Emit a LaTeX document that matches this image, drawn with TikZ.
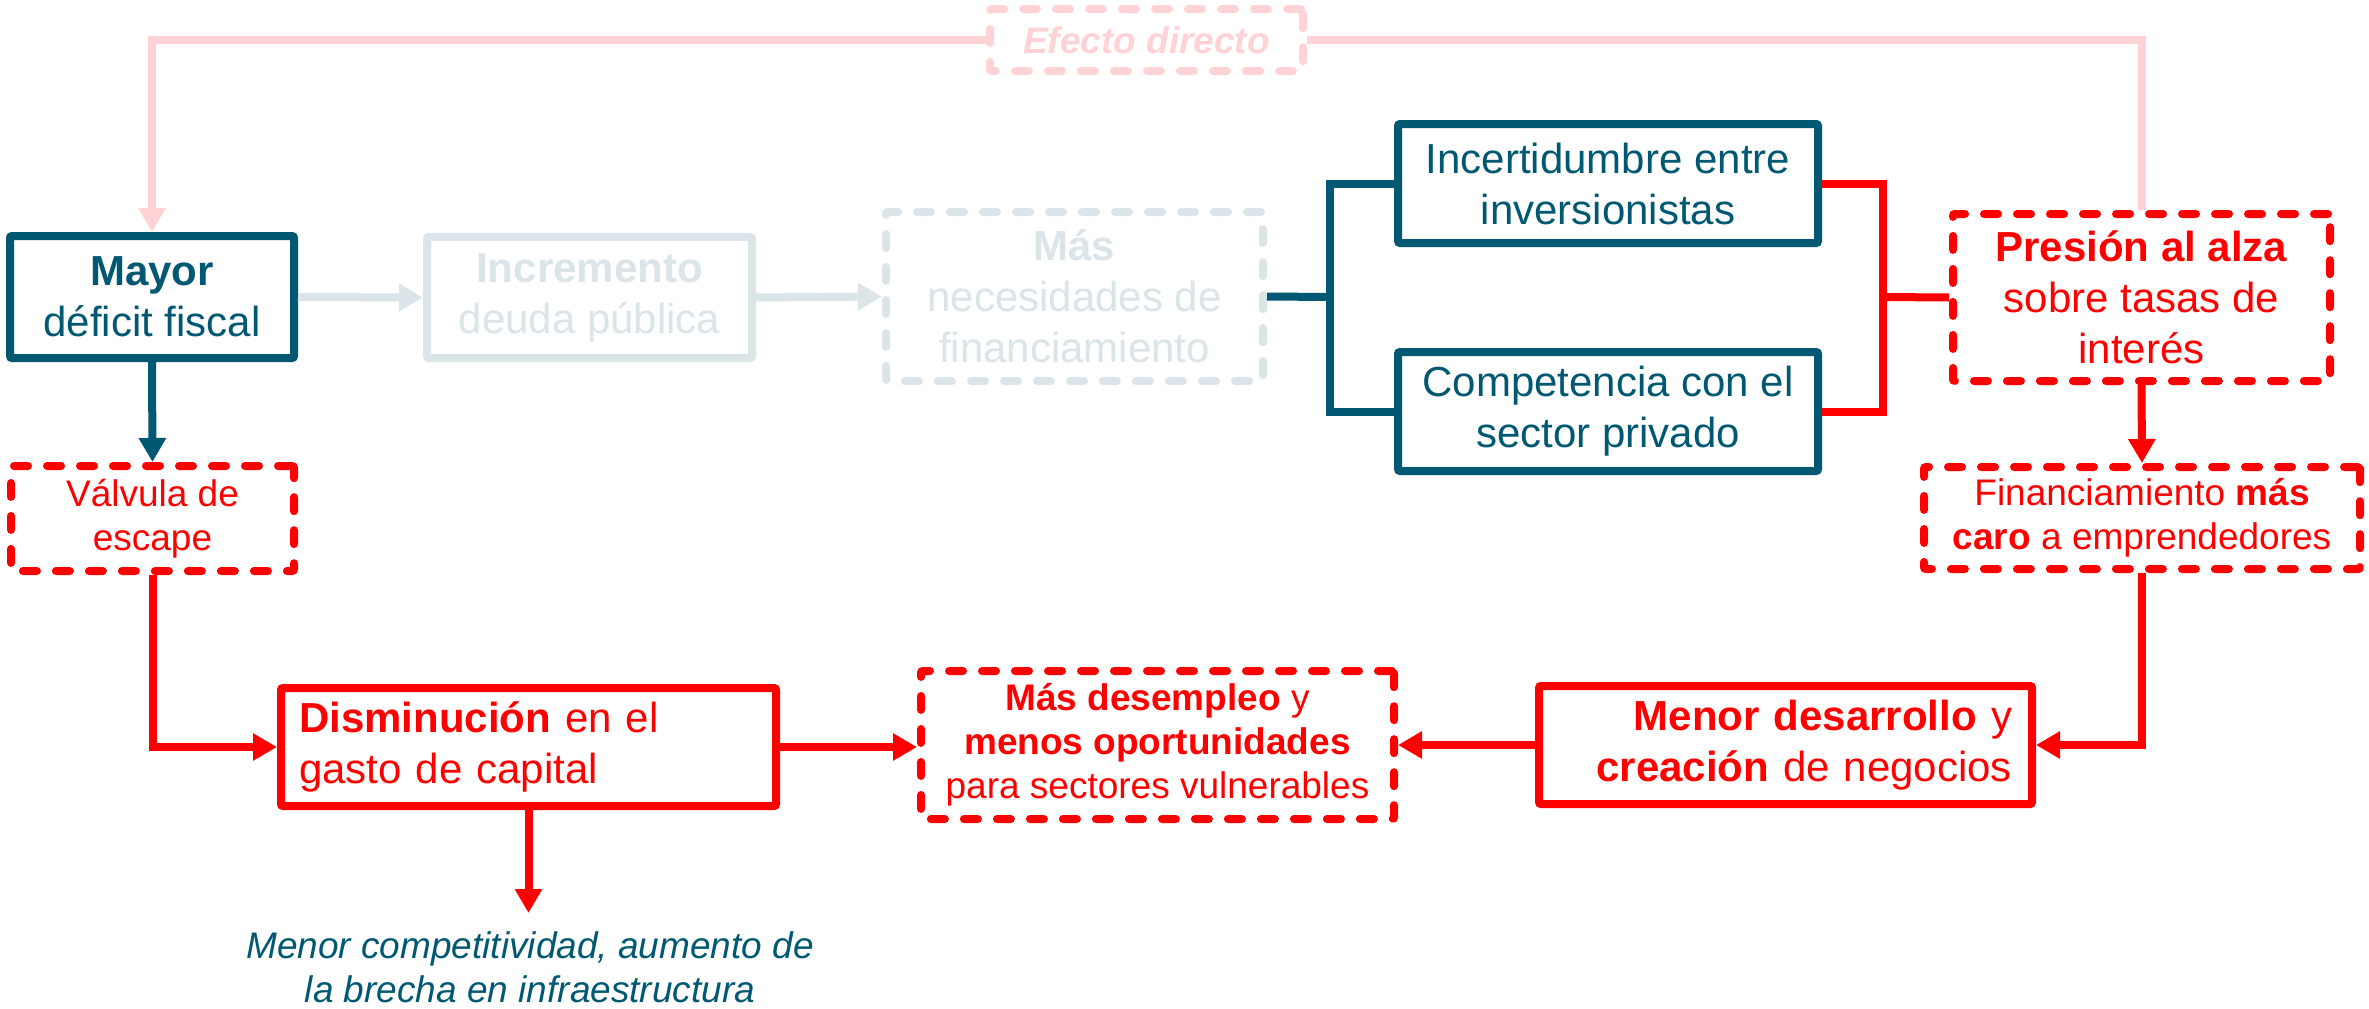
\documentclass[tikz,border=0pt]{standalone}
\usepackage{fontspec}
\setmainfont{Liberation Sans}
\usetikzlibrary{arrows.meta}
\definecolor{teal1}{HTML}{005872}
\definecolor{red1}{HTML}{FF0000}
\definecolor{pink1}{HTML}{FFD3D6}
\definecolor{gray1}{HTML}{DAE4E9}
\begin{document}
\begin{tikzpicture}[x=1pt,y=-1pt,
  box/.style={draw, line width=8pt, rounded corners=2pt, inner sep=0pt, align=center, fill=white},
  dbox/.style={box, dash pattern=on 14pt off 19pt, line cap=round},
  fbig/.style={font=\fontsize{42}{51}\selectfont},
  fsmall/.style={font=\fontsize{37}{44}\selectfont},
  conn/.style={line width=8pt},
  arr/.style={conn, -{Triangle[length=24pt,width=26pt]}},
]
\useasboundingbox (0,0) rectangle (2369,1009);

% nodes
\node[box, draw=teal1, text=teal1, fbig, minimum width=284pt, minimum height=122pt] (mayor) at (152,297) {\textbf{Mayor}\\déficit fiscal};
\node[box, draw=gray1, text=gray1, fbig, minimum width=325pt, minimum height=121pt] (incr) at (589.5,297.5) {\textbf{Incremento}\\deuda pública};
\node[dbox, draw=gray1, text=gray1, fbig, minimum width=377pt, minimum height=169pt] (mas) at (1074.5,296.5) {\textbf{Más}\\necesidades de\\financiamiento};
\node[box, draw=teal1, text=teal1, fbig, minimum width=420pt, minimum height=119pt] (incert) at (1608,183.5) {Incertidumbre entre\\inversionistas};
\node[box, draw=teal1, text=teal1, fbig, minimum width=420pt, minimum height=119pt] (comp) at (1608,411.5) {Competencia con el\\sector privado};
\node[dbox, draw=red1, text=red1, fbig, minimum width=377pt, minimum height=167pt] (pres) at (2141.5,297.5) {\textbf{Presión al alza}\\sobre tasas de\\interés};
\node[dbox, draw=pink1, text=pink1, fsmall, minimum width=313pt, minimum height=62pt] (efecto) at (1146.5,40) {\textbf{\textit{Efecto directo}}};
\node[dbox, draw=red1, text=red1, fsmall, minimum width=283pt, minimum height=105pt] (valv) at (152.5,518.5) {Válvula de\\escape};
\node[dbox, draw=red1, text=red1, fsmall, minimum width=436pt, minimum height=102pt] (fin) at (2142,518) {Financiamiento \textbf{más}\\\textbf{caro} a emprendedores};
\node[box, draw=red1, text=red1, fbig, minimum height=118pt, align=left, text width=459pt, inner xsep=18pt] (dism) at (528.5,747) {\textbf{Disminución} en el\\gasto de capital};
\node[dbox, draw=red1, text=red1, fsmall, minimum width=473pt, minimum height=148pt] (masd) at (1157.5,745) {\textbf{Más desempleo} y\\\textbf{menos oportunidades}\\para sectores vulnerables};
\node[box, draw=red1, text=red1, fbig, minimum height=118pt, align=right, text width=453pt, inner xsep=20pt] (menor) at (1785.5,745) {\textbf{Menor desarrollo} y\\\textbf{creación} de negocios};
\node[text=teal1, font=\fontsize{37}{44}\selectfont\itshape, align=center, inner sep=0pt, anchor=north] (note) at (530,931) {Menor competitividad, aumento de\\la brecha en infraestructura};

% junctions
\coordinate (jl) at (1330,297);
\coordinate (jr) at (1883,297);
\coordinate (noteend) at (528.5,913);

% connectors
\draw[conn, pink1] (pres.north) |- (efecto.east);
\draw[arr, pink1] (efecto.west) -| (mayor.north);
\draw[arr, gray1] (mayor.east) -- (incr.west);
\draw[arr, gray1] (incr.east) -- (mas.west);
\draw[conn, teal1] (mas.east) -- (jl);
\draw[conn, teal1] (incert.west) -| (jl) |- (comp.west);
\draw[conn, red1] (incert.east) -| (jr) |- (comp.east);
\draw[conn, red1] (jr) -- (pres.west);
\draw[arr, teal1] (mayor.south) -- (valv.north);
\draw[arr, red1] (valv.south) |- (dism.west);
\draw[arr, red1] (dism.east) -- (masd.west |- dism.east);
\draw[arr, red1] (menor.west) -- (masd.east |- menor.west);
\draw[arr, red1] (fin.south) |- (menor.east);
\draw[arr, red1] (pres.south) -- (fin.north);
\draw[arr, red1] (dism.south) -- (noteend);
\end{tikzpicture}
\end{document}
